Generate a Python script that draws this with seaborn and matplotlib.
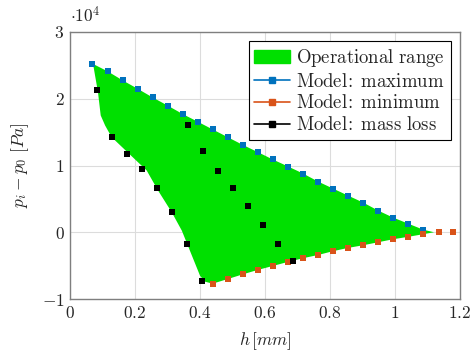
import numpy as np
import pandas as pd
import matplotlib
matplotlib.use("Agg")
import matplotlib.pyplot as plt
import seaborn as sns
from matplotlib.lines import Line2D
from matplotlib.patches import Patch
from matplotlib.ticker import FuncFormatter, FixedLocator

# ---------------- data ----------------
max_h = [0.069, 0.116, 0.162, 0.208, 0.254, 0.301, 0.347, 0.393, 0.439, 0.485,
         0.531, 0.578, 0.624, 0.671, 0.717, 0.763, 0.809, 0.855, 0.902, 0.948,
         0.994, 1.040, 1.086]
max_p = [25260, 24100, 22750, 21500, 20200, 18960, 17700, 16560, 15400, 14250,
         13100, 12000, 10900, 9850, 8800, 7600, 6550, 5500, 4450, 3250,
         2200, 1300, 400]

min_h = [0.439, 0.486, 0.532, 0.578, 0.625, 0.671, 0.716, 0.764, 0.808, 0.856,
         0.902, 0.948, 0.994, 1.040, 1.086, 1.134, 1.178]
min_p = [-7700, -7000, -6300, -5640, -5040, -4440, -3900, -3400, -2850, -2340,
         -1950, -1500, -1050, -690, -300, 0, 0]

loss_h = [0.082, 0.129, 0.175, 0.222, 0.268, 0.314, 0.360, 0.406,
          0.362, 0.408, 0.454, 0.500, 0.547, 0.593, 0.639, 0.685]
loss_p = [21250, 14250, 11760, 9480, 6700, 3100, -1700, -7250,
          16100, 12100, 9250, 6600, 3900, 1100, -1800, -4300]

# operational range: left boundary (bottom -> top) and tip
range_left_h = [0.415, 0.400, 0.344, 0.313, 0.271, 0.236, 0.128, 0.108, 0.0945, 0.086, 0.0717]
range_left_p = [-7400, -6500, 250, 3000, 6250, 9250, 14250, 16000, 17500, 21000, 25000]
tip_h = 1.12
tip_p = 0

xticks = [0, 0.2, 0.4, 0.6, 0.8, 1, 1.2]
yticks = [-10000, 0, 10000, 20000, 30000]

# ---------------- style ----------------
sns.set_style("white")
plt.rcParams["mathtext.fontset"] = "cm"
plt.rcParams["font.family"] = ["DejaVu Serif"]

GREEN = "#00E000"
BLUE = "#0072BD"
ORANGE = "#D95319"
FS = 12.5

fig = plt.figure(figsize=(4.74, 3.61), dpi=100)
ax = fig.add_axes([70 / 474, 62 / 361, 390 / 474, 267 / 361])

# polygon of operational range
poly_h = list(max_h) + [tip_h] + list(reversed(min_h[:15])) + list(range_left_h)
poly_p = list(max_p) + [tip_p] + list(reversed(min_p[:15])) + list(range_left_p)
ax.fill(poly_h, poly_p, color=GREEN, lw=0, zorder=2)

df_max = pd.DataFrame({"h": max_h, "p": max_p})
df_min = pd.DataFrame({"h": min_h, "p": min_p})
df_loss = pd.DataFrame({"h": loss_h, "p": loss_p})

kw = dict(marker="s", s=22, linewidth=0, zorder=3, ax=ax, legend=False)
sns.scatterplot(data=df_max, x="h", y="p", color=BLUE, **kw)
sns.scatterplot(data=df_min, x="h", y="p", color=ORANGE, **kw)
sns.scatterplot(data=df_loss, x="h", y="p", color="black", **kw)

ax.set_xlim(0, 1.2)
ax.set_ylim(-10000, 30000)
ax.xaxis.set_major_locator(FixedLocator(xticks))
ax.yaxis.set_major_locator(FixedLocator(yticks))
ax.xaxis.set_major_formatter(FuncFormatter(lambda v, p: r"$%g$" % v))
ax.yaxis.set_major_formatter(FuncFormatter(lambda v, p: r"$%g$" % (v / 1e4)))
ax.grid(True, color="#DCDCDC", lw=0.8, zorder=0)
ax.set_axisbelow(True)
for s in ax.spines.values():
    s.set_color("#7F7F7F")
    s.set_linewidth(1.0)
ax.tick_params(direction="in", length=4, color="#7F7F7F", labelsize=FS,
               top=False, right=False, pad=4)

ax.set_xlabel(r"$h\,[mm]$", fontsize=FS, labelpad=6)
ax.set_ylabel(r"$p_i - p_0\ [Pa]$", fontsize=FS, labelpad=8)
ax.text(0.0, 1.02, r"$\cdot 10^4$", transform=ax.transAxes, fontsize=FS,
        ha="left", va="bottom")

handles = [
    Patch(facecolor=GREEN, edgecolor=GREEN),
    Line2D([], [], color=BLUE, marker="s", markersize=4, lw=1.2),
    Line2D([], [], color=ORANGE, marker="s", markersize=4, lw=1.2),
    Line2D([], [], color="black", marker="s", markersize=4, lw=1.2),
]
labels = [r"$\mathrm{Operational\ range}$", r"$\mathrm{Model\!:\ maximum}$",
          r"$\mathrm{Model\!:\ minimum}$", r"$\mathrm{Model\!:\ mass\ loss}$"]
leg = ax.legend(handles, labels, loc="upper right", fontsize=13.5, frameon=True,
                fancybox=False, edgecolor="black", framealpha=1,
                borderpad=0.3, labelspacing=0.2, handlelength=1.9,
                handletextpad=0.35, borderaxespad=0.5)
leg.get_frame().set_linewidth(0.8)

fig.savefig("out.png", dpi=100)
